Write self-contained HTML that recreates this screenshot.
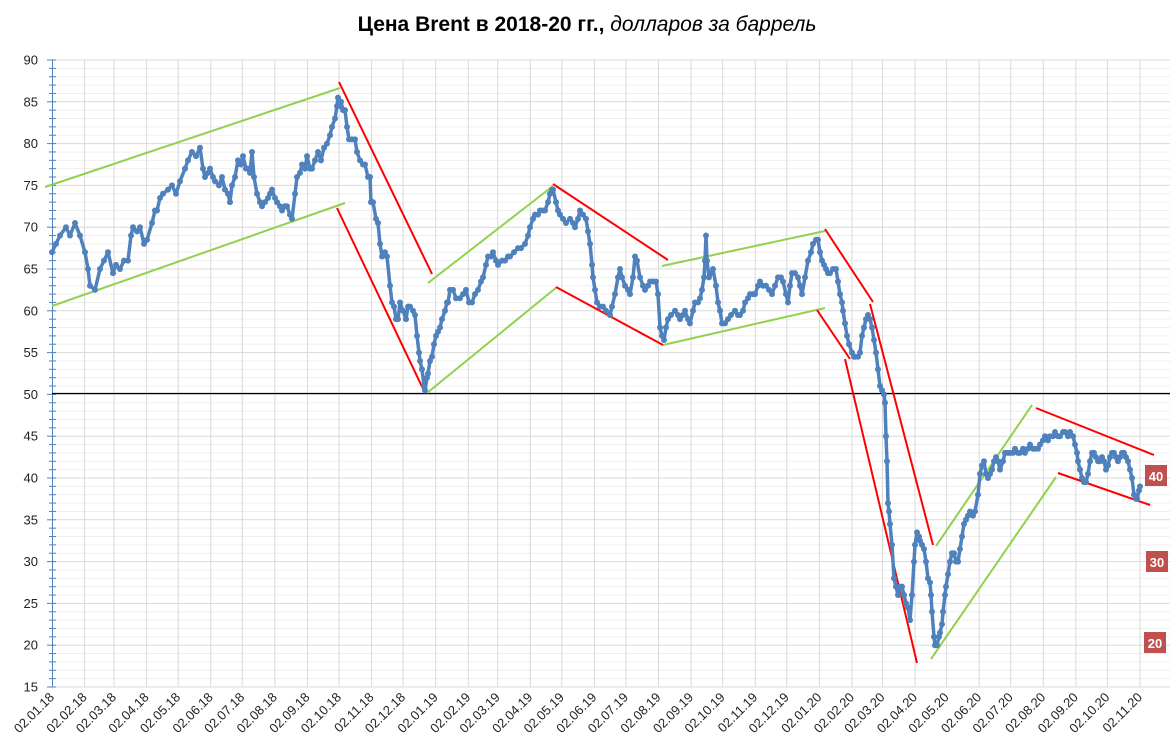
<!DOCTYPE html>
<html><head><meta charset="utf-8"><style>
html,body{margin:0;padding:0;background:#fff;}
svg{display:block;font-family:"Liberation Sans",sans-serif;}
</style></head><body>
<svg id="s" width="1174" height="756" xmlns="http://www.w3.org/2000/svg">
<text x="587" y="31" text-anchor="middle" font-size="21" font-weight="bold">Цена Brent в 2018-20 гг.,<tspan font-weight="normal" font-style="italic"> долларов за баррель</tspan></text>
<g id="grid"></g>
<line x1="52" y1="393.5" x2="1170" y2="393.5" stroke="#000" stroke-width="1.3"/>
<g id="trend" stroke-width="2" fill="none">
<line x1="45" y1="187" x2="340" y2="88" stroke="#92d050"/>
<line x1="52" y1="306" x2="345" y2="203" stroke="#92d050"/>
<line x1="428" y1="283" x2="553" y2="186" stroke="#92d050"/>
<line x1="427" y1="393" x2="557" y2="287" stroke="#92d050"/>
<line x1="662" y1="266" x2="825" y2="231" stroke="#92d050"/>
<line x1="663" y1="345" x2="825" y2="308" stroke="#92d050"/>
<line x1="936" y1="546" x2="1032" y2="405" stroke="#92d050"/>
<line x1="931" y1="659" x2="1056" y2="477" stroke="#92d050"/>
<line x1="339" y1="82" x2="432" y2="274" stroke="#ff0000"/>
<line x1="337" y1="208" x2="425" y2="393" stroke="#ff0000"/>
<line x1="553" y1="184" x2="668" y2="260" stroke="#ff0000"/>
<line x1="556" y1="287" x2="663" y2="345" stroke="#ff0000"/>
<line x1="825" y1="229" x2="873" y2="302" stroke="#ff0000"/>
<line x1="817" y1="310" x2="850" y2="359" stroke="#ff0000"/>
<line x1="870" y1="304" x2="933" y2="545" stroke="#ff0000"/>
<line x1="845" y1="359" x2="917" y2="663" stroke="#ff0000"/>
<line x1="1036" y1="408" x2="1154" y2="455" stroke="#ff0000"/>
<line x1="1058" y1="473" x2="1150" y2="505" stroke="#ff0000"/>
</g>
<g id="data"></g>
<g font-size="13" font-weight="bold" fill="#fff" text-anchor="middle">
<rect x="1145" y="465" width="22" height="21" fill="#c0504d"/><text x="1156" y="481">40</text>
<rect x="1146" y="551" width="22" height="21" fill="#c0504d"/><text x="1157" y="567">30</text>
<rect x="1144" y="632" width="22" height="21" fill="#c0504d"/><text x="1155" y="648">20</text>
</g>
</svg>
<script>
var NS="http://www.w3.org/2000/svg";
function el(p,t,a,txt){var e=document.createElementNS(NS,t);for(var k in a)e.setAttribute(k,a[k]);if(txt!=null)e.textContent=txt;p.appendChild(e);return e;}
var g=document.getElementById('grid');
function Y(v){return 687-(v-15)*8.36;}
for(var v=15;v<=90;v++){if(v%5)el(g,'line',{x1:52,x2:1170,y1:Y(v),y2:Y(v),stroke:'#efefef','stroke-width':1});}
var start=new Date(2018,0,2);
var months=[];
for(var i=0;i<=34;i++){var d=new Date(2018,i,2);var days=(d-start)/864e5;var x=52+days*1.0512;months.push([x,d]);}
months.forEach(function(m,i){if(i>0)el(g,'line',{x1:m[0],x2:m[0],y1:60,y2:687,stroke:'#d9d9d9','stroke-width':1});});
for(var v=15;v<=90;v+=5){el(g,'line',{x1:52,x2:1170,y1:Y(v),y2:Y(v),stroke:'#d9d9d9','stroke-width':1});
el(g,'text',{x:38,y:Y(v)+4.5,'text-anchor':'end','font-size':13,fill:'#222'},String(v));}
el(g,'line',{x1:52.5,x2:52.5,y1:60,y2:687,stroke:'#4f81bd','stroke-width':1});
for(var v=15;v<=90;v++){el(g,'line',{x1:v%5?49:47,x2:56,y1:Y(v),y2:Y(v),stroke:'#4f81bd','stroke-width':1});}
months.forEach(function(m){var d=m[1];var s=('0'+(d.getMonth()+1)).slice(-2);var lbl='02.'+s+'.'+String(d.getFullYear()).slice(2);
el(g,'text',{x:m[0]+3,y:698,'text-anchor':'end','font-size':13,fill:'#222',transform:'rotate(-45 '+(m[0]+3)+' 698)'},lbl);});
var P=[52,67,56,68,60,69,66,70,70,69,75,70.5,80,69,85,67,88,65,90,63,95,62.5,100,65,104,66,108,67,113,64.5,116,65.5,120,65,124,66,128,66,131,69,133,70,137,69.5,140,70,144,68,147,68.5,152,70.5,155,72,157,72,160,73.5,163,74,168,74.5,172,75,176,74,180,75.5,185,77,188,78,192,79,196,78.5,200,79.5,203,77,205,76,208,76.5,210,77,213,76,215,75.5,219,75,222,76,225,74.5,228,74,230,73,232,75,235,76,238,78,241,77.5,243,78.5,246,77,248,77,250,76.5,252,79,254,76,257,74,260,73,262,72.5,265,73,268,73.5,270,74,272,74.5,275,73.5,277,73,280,72.5,282,72,285,72.5,287,72.5,290,71.5,292,71,295,74,297,76,300,76.5,302,77.5,305,77,307,78.5,310,77,312,77,315,78,318,79,321,78,324,79.5,327,80,330,81,332,82,335,83,337,84.5,338,85.5,340,84.5,341,85,343,84,345,84,347,82,349,80.5,352,80.5,355,80.5,357,79,360,78,363,77.5,365,77.5,368,76,370,76,371,73,373,73,376,71,378,70.5,380,68,382,66.5,385,67,387,66.5,390,63,392,61,394,60.5,396,59,398,59,400,61,403,60,406,59,408,60.5,410,60.5,413,60,415,59.5,417,57,419,55,420,54,422,53,424,51,425,50.5,427,52,428,52.5,430,54,432,54.5,434,56,436,57,438,57.5,440,58,442,59,445,60,447,61,448,61,450,62.5,453,62.5,456,61.5,460,61.5,463,62,466,62.5,469,61,472,61,475,62,478,62.5,481,63.5,483,64,486,65.5,488,66.5,491,66.5,493,67,496,66,498,65.5,502,66,505,66,508,66.5,510,66.5,514,67,518,67.5,521,67.5,525,68,528,69,530,70,533,71,535,71.5,538,71.5,540,72,543,72,545,72,548,73,550,74,552,74.5,553,74.5,556,73,558,72,560,71.5,563,71,566,70.5,570,71,573,70.5,575,70,578,71,580,72,583,71.5,586,71,588,69.5,590,68,592,65.5,593,64,595,62.5,597,61,600,60.5,603,60.5,606,60,610,59.5,612,60.5,615,62,618,64,620,65,622,64,625,63,628,62.5,630,62,633,64,635,66.5,637,66,640,64,643,63,645,62.5,648,63,650,63.5,653,63.5,656,63.5,658,62,660,58,662,57,664,56.5,666,58,668,59,671,59.5,675,60,678,59.5,680,59,683,59.5,685,60,688,59,690,58.5,693,60,695,61,698,61,700,61.5,702,62.5,704,64,705,66,706,69,707,66,709,64,711,64.5,713,65,716,63,718,61,720,60,722,58.5,725,58.5,728,59,731,59.5,735,60,738,59.5,740,59.5,743,60,745,61,748,61.5,750,62,753,62,755,62,758,63,760,63.5,763,63,766,63,769,62.5,772,62,775,63,778,64,781,64,783,63.5,786,62,788,61,790,63,792,64.5,795,64.5,798,64,800,63,802,62,805,64,808,66,811,67,813,68,816,68.5,818,68.5,820,67,822,66,824,65.5,826,65,828,64.5,830,64.5,833,65,836,65,838,63.5,840,62,842,61,843,60,845,58.5,847,57,849,56,852,55,854,54.5,855,54.5,858,54.5,860,55,862,57,864,58,866,59,868,59.5,870,59,872,58,874,56.5,876,55,878,53,880,51,882,50.5,884,50,885,49,886,45,887,42,888,37,889,36,890,34.5,892,32,894,28,896,27,898,26,900,27,902,27,904,26,906,25,908,24.5,910,23,912,26,914,30,915,32,917,33.5,919,33,920,32.5,922,32,924,31.5,926,30,928,28,930,27.5,931,26,932,24,934,21,935,20,937,20,939,21,940,21.5,942,22.5,943,24,945,26,946,27,948,28.5,950,30,952,31,954,31,956,30,958,30,960,31.5,962,33,964,34.5,966,35,968,35.5,970,36,973,35.5,975,36,978,38,980,40.5,982,41.5,984,42,986,40.5,988,40,990,40.5,992,41,994,42,996,42.5,998,42,1000,41,1003,42,1005,43,1008,43,1010,43,1013,43,1015,43.5,1018,43,1020,43,1023,43.5,1025,43,1028,43.5,1030,44,1033,43.5,1035,43.5,1038,43.5,1040,44,1043,44.5,1045,45,1048,44.5,1050,45,1053,45,1055,45.5,1058,45,1060,45,1063,45.5,1065,45.5,1068,45,1070,45.5,1073,45,1075,44,1077,43,1078,42,1080,41,1082,40,1084,39.5,1086,39.5,1088,40.5,1090,42,1092,43,1094,43,1096,42.5,1098,42,1100,42,1102,42.5,1104,42,1106,41,1108,41.5,1110,42.5,1112,43,1114,43,1116,42.5,1118,42,1120,42.5,1122,43,1124,43,1126,42.5,1128,42,1130,41,1132,40,1134,38,1136,37.5,1137,37.5,1139,38.5,1140,39];
var dg=document.getElementById('data');var pts=[];
for(var i=0;i<P.length;i+=2)pts.push(P[i].toFixed(1)+','+Y(P[i+1]).toFixed(1));
el(dg,'polyline',{points:pts.join(' '),fill:'none',stroke:'#4f81bd','stroke-width':3.5,'stroke-linejoin':'round'});
for(var i=0;i<P.length;i+=2)el(dg,'circle',{cx:P[i],cy:Y(P[i+1]),r:3,fill:'#4f81bd'});
</script>
</body></html>
